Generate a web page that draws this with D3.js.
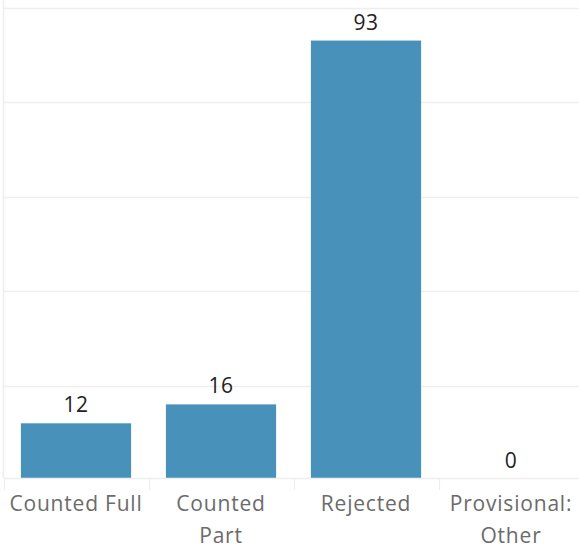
<!DOCTYPE html>
<html>
<head>
<meta charset="utf-8">
<script src="https://cdn.jsdelivr.net/npm/d3@7"></script>
<style>
	body { margin: 0; background: #fff; }
	text { font-family: "Open Sans", "Noto Sans", sans-serif; }
</style>
</head>
<body>
<svg id="chart" width="579" height="548"></svg>
<script>
// data
let categories	= ['Counted Full', 'Counted Part', 'Rejected', 'Provisional: Other'];
let catLines	= [['Counted Full'], ['Counted', 'Part'], ['Rejected'], ['Provisional:', 'Other']];
let counts		= [12, 16, 93, 0];
let gridTicks	= [20, 40, 60, 80, 100];

let svg		= d3.select('#chart');
let width	= 579;
let base	= 478.5;

let x		= d3.scaleBand().domain(categories).range([3.5, 583.5]);
let y		= d3.scaleLinear().domain([0, 100]).range([480, 7.5]);

// grid
svg.append('g').selectAll('line').data(gridTicks).join('line')
	.attr('x1', 4).attr('x2', width)
	.attr('y1', (d) => Math.round(y(d)) + .5).attr('y2', (d) => Math.round(y(d)) + .5)
	.style('stroke', '#eeeeee').style('stroke-width', 1.6);

// bars
svg.append('g').selectAll('rect').data(counts).join('rect')
	.attr('x', (d, i) => x(categories[i]) + x.bandwidth() * .12)
	.attr('width', x.bandwidth() * .76)
	.attr('y', (d) => y(d))
	.attr('height', (d) => Math.max(0, base - y(d)))
	.style('fill', '#4891bb');

// value labels
svg.append('g').selectAll('text').data(counts).join('text')
	.attr('x', (d, i) => x(categories[i]) + x.bandwidth() / 2)
	.attr('y', (d) => Math.min(y(d), base) - 11)
	.attr('text-anchor', 'middle')
	.style('font-size', '21px').style('fill', '#222').style('letter-spacing', '.5px')
	.text((d) => d);

// axis lines
svg.append('line').attr('x1', 3.5).attr('x2', 3.5).attr('y1', 0).attr('y2', base)
	.style('stroke', '#eeeeee').style('stroke-width', 1.6);
svg.append('line').attr('x1', 4).attr('x2', width).attr('y1', base).attr('y2', base)
	.style('stroke', '#eeeeee').style('stroke-width', 1.6);

// category separators
svg.append('g').selectAll('line').data(categories).join('line')
	.attr('x1', (d) => Math.round(x(d)) + .5).attr('x2', (d) => Math.round(x(d)) + .5)
	.attr('y1', base).attr('y2', 490)
	.style('stroke', '#eeeeee').style('stroke-width', 1.2);

// category labels
let cat = svg.append('g').selectAll('text').data(catLines).join('text')
	.attr('text-anchor', 'middle')
	.style('font-size', '21px').style('fill', '#6b6b6b').style('letter-spacing', '.8px');
cat.each(function(lines, i) {
	d3.select(this).selectAll('tspan').data(lines).join('tspan')
		.attr('x', x(categories[i]) + x.bandwidth() / 2)
		.attr('y', (d, j) => 511 + j * 32)
		.text((d) => d);
});
</script>
</body>
</html>
